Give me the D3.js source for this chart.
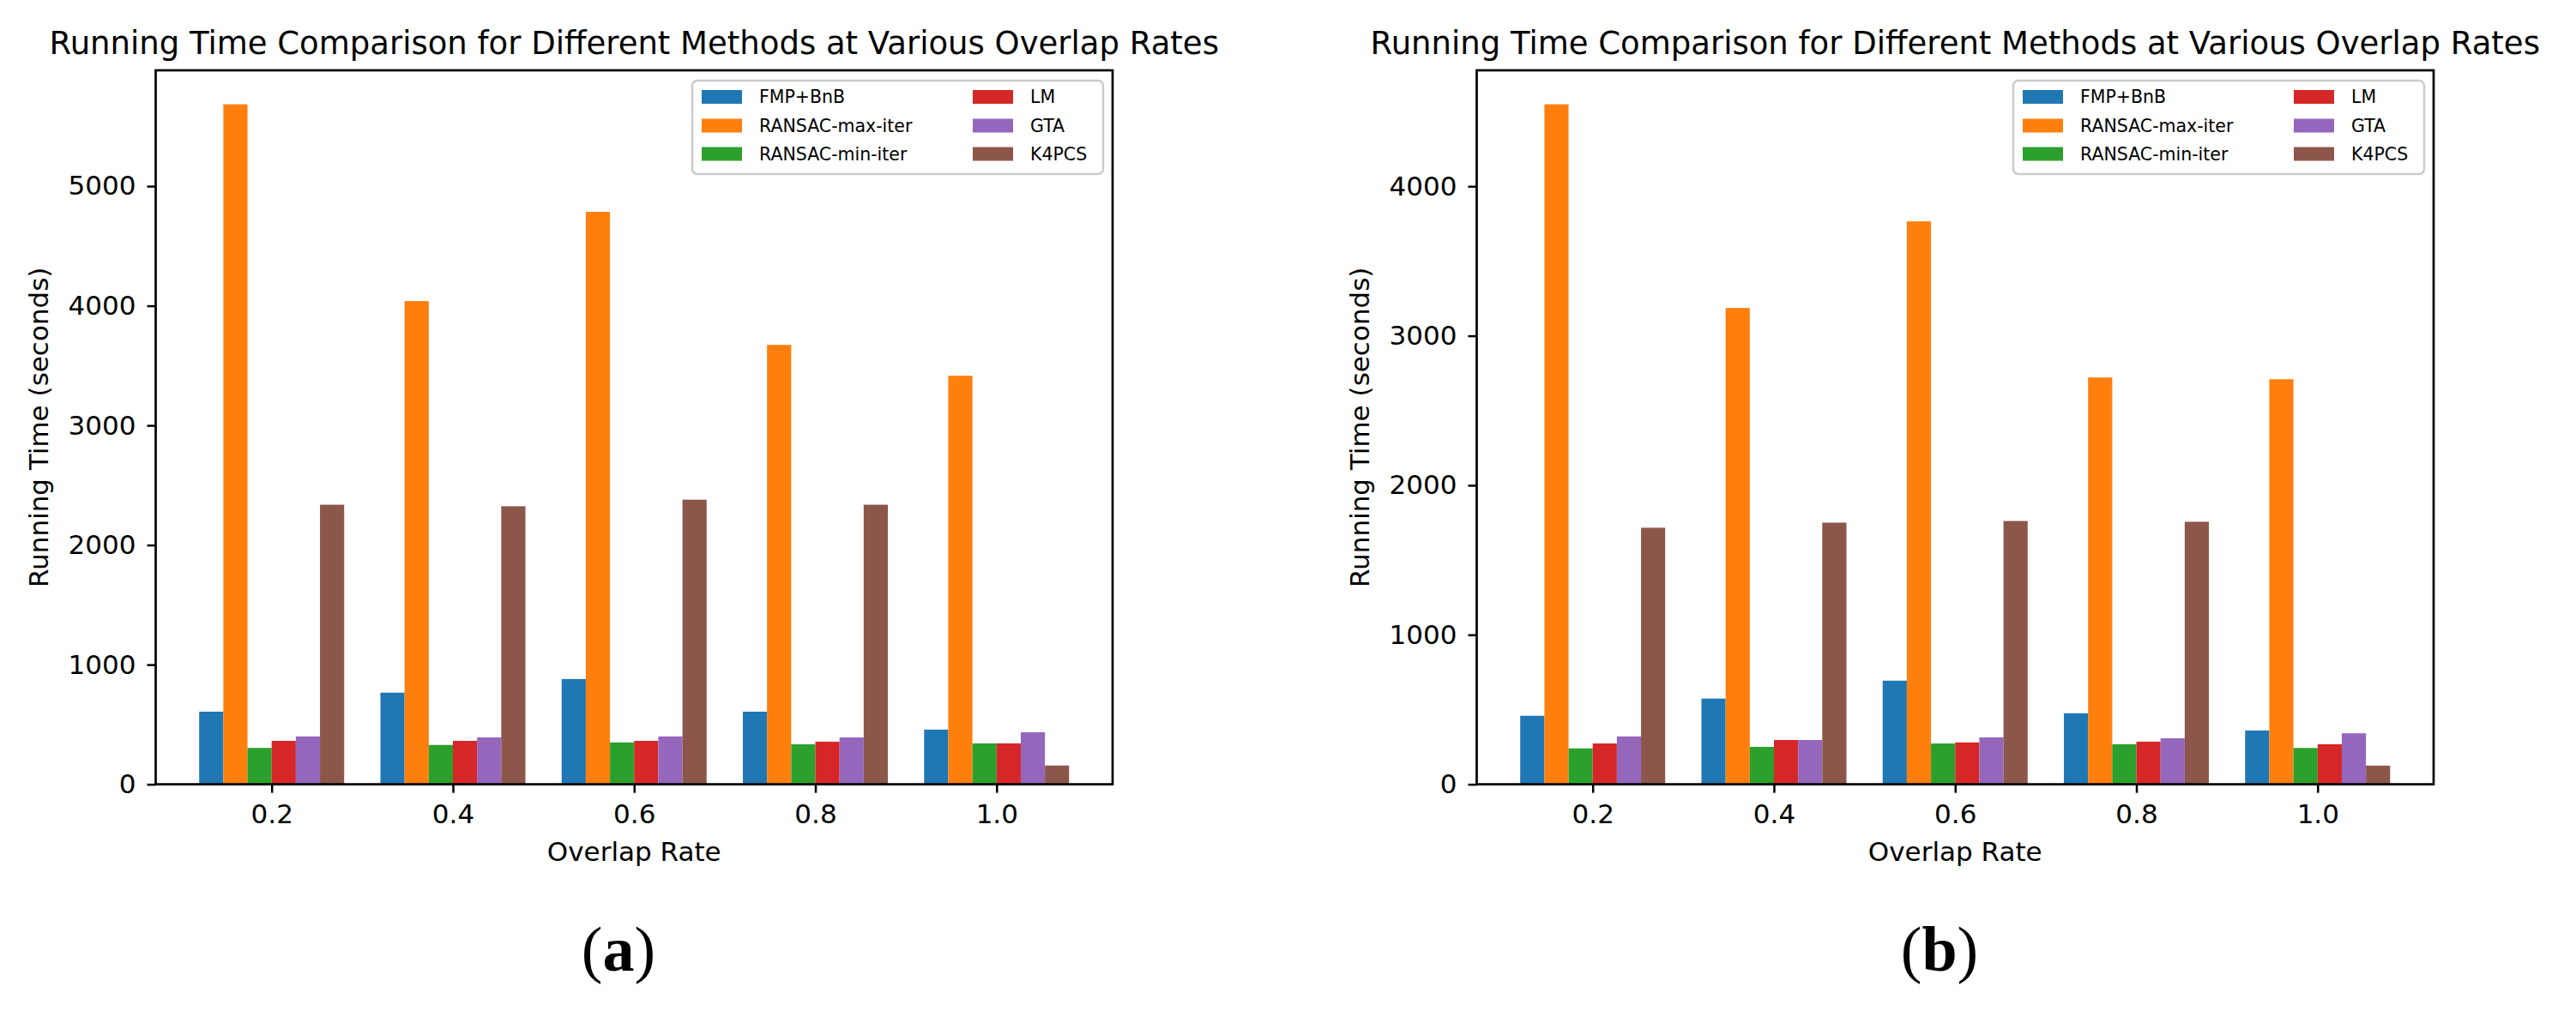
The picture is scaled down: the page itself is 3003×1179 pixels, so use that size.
<!DOCTYPE html>
<html>
<meta charset="utf-8">
<script src="https://d3js.org/d3.v7.min.js"></script>

<body>
    <style>
        body,
        html {
            margin: 0;
            padding: 0;
            background: #fff;
            overflow: hidden;
        }

        text {
            font-family: "DejaVu Sans", sans-serif;
            fill: #000;
        }
    </style>

    <svg id="chart"></svg>

    <script>
        // categories and series
        var overlapRates = ["0.2", "0.4", "0.6", "0.8", "1.0"];
        var methods = ["FMP+BnB", "RANSAC-max-iter", "RANSAC-min-iter", "LM", "GTA", "K4PCS"];
        var methodColors = ["#1f77b4", "#ff7f0e", "#2ca02c", "#d62728", "#9467bd", "#8c564b"];

        // panel (a)
        var fmpA = [607, 766, 880, 607, 457];
        var ransacMaxA = [5684, 4039, 4785, 3673, 3415];
        var ransacMinA = [304, 329, 350, 334, 342];
        var lmA = [363, 363, 363, 356, 342];
        var gtaA = [400, 392, 400, 392, 435];
        var k4pcsA = [2337, 2324, 2379, 2337, 157];
        var yTicksA = [0, 1000, 2000, 3000, 4000, 5000];

        // panel (b)
        var fmpB = [458, 573, 693, 475, 360];
        var ransacMaxB = [4548, 3186, 3765, 2721, 2709];
        var ransacMinB = [240, 250, 273, 268, 243];
        var lmB = [273, 296, 280, 285, 268];
        var gtaB = [320, 296, 314, 308, 341];
        var k4pcsB = [1716, 1750, 1761, 1756, 125];
        var yTicksB = [0, 1000, 2000, 3000, 4000];

        var title = "Running Time Comparison for Different Methods at Various Overlap Rates";

        var width = 3003;
        var height = 1179;

        var svg = d3.select("#chart")
            .attr("width", width)
            .attr("height", height);

        // axes box of the first panel, the second one is shifted right
        var box = { left: 181.5, right: 1297, top: 82, bottom: 914.6 };
        var panelShift = 1540;

        function drawPanel(offsetX, series, yTicks, tag) {
            var g = svg.append("g").attr("transform", `translate(${offsetX},0)`);

            var x = d3.scaleLinear()
                .domain([-0.64, overlapRates.length - 1 + 0.64])
                .range([box.left, box.right]);

            var yMax = d3.max(series, function (s) { return d3.max(s); }) * 1.05;
            var y = d3.scaleLinear()
                .domain([0, yMax])
                .range([box.bottom, box.top]);

            var barW = 0.8 / methods.length;

            series.forEach(function (vals, m) {
                g.selectAll(".bar-" + m)
                    .data(vals)
                    .enter().append("rect")
                    .attr("class", "bar-" + m)
                    .attr("x", function (d, i) { return x(i - 0.4 + m * barW); })
                    .attr("width", x(barW) - x(0))
                    .attr("y", function (d) { return y(d); })
                    .attr("height", function (d) { return y(0) - y(d); })
                    .attr("fill", methodColors[m]);
            });

            // spines
            g.append("rect")
                .attr("x", box.left)
                .attr("y", box.top)
                .attr("width", box.right - box.left)
                .attr("height", box.bottom - box.top)
                .attr("fill", "none")
                .attr("stroke", "#000")
                .attr("stroke-width", 2.7);

            var yAxis = g.append("g")
                .attr("transform", `translate(${box.left},0)`)
                .call(d3.axisLeft(y).tickValues(yTicks).tickFormat(d3.format("d"))
                    .tickSize(10).tickPadding(13));

            var xAxis = g.append("g")
                .attr("transform", `translate(0,${box.bottom})`)
                .call(d3.axisBottom(x).tickValues(d3.range(overlapRates.length))
                    .tickFormat(function (i) { return overlapRates[i]; })
                    .tickSize(10).tickPadding(13));

            [xAxis, yAxis].forEach(function (ax) {
                ax.select(".domain").remove();
                ax.selectAll(".tick line").attr("stroke", "#000").attr("stroke-width", 2.5);
                ax.selectAll(".tick text")
                    .attr("font-family", "DejaVu Sans")
                    .attr("font-size", 31)
                    .attr("fill", "#000");
            });

            g.append("text")
                .attr("x", (box.left + box.right) / 2)
                .attr("y", 63)
                .attr("text-anchor", "middle")
                .attr("font-size", 37)
                .text(title);

            g.append("text")
                .attr("x", (box.left + box.right) / 2)
                .attr("y", 1004)
                .attr("text-anchor", "middle")
                .attr("font-size", 31)
                .text("Overlap Rate");

            g.append("text")
                .attr("transform", `translate(56,${(box.top + box.bottom) / 2}) rotate(-90)`)
                .attr("text-anchor", "middle")
                .attr("font-size", 31)
                .text("Running Time (seconds)");

            // legend, two columns
            var legend = g.append("g");
            legend.append("rect")
                .attr("x", 807)
                .attr("y", 94)
                .attr("width", 479)
                .attr("height", 109)
                .attr("rx", 6)
                .attr("fill", "#fff")
                .attr("fill-opacity", 0.8)
                .attr("stroke", "#cccccc")
                .attr("stroke-width", 2.5);

            var colX = [818, 1134];
            var rowY = [113, 146.5, 179.5];
            methods.forEach(function (name, m) {
                var cx = colX[Math.floor(m / 3)];
                var cy = rowY[m % 3];
                legend.append("rect")
                    .attr("x", cx)
                    .attr("y", cy - 8)
                    .attr("width", 47)
                    .attr("height", 16)
                    .attr("fill", methodColors[m]);
                legend.append("text")
                    .attr("x", cx + 67)
                    .attr("y", cy + 7.4)
                    .attr("font-size", 20.5)
                    .text(name);
            });

            // sub-figure tag
            var tagText = g.append("text")
                .attr("x", 721)
                .attr("y", 1132)
                .attr("text-anchor", "middle")
                .attr("font-size", 74)
                .style("font-family", "'Liberation Serif', serif");
            tagText.append("tspan").text("(");
            tagText.append("tspan").attr("font-weight", "bold").text(tag);
            tagText.append("tspan").text(")");
        }

        drawPanel(0, [fmpA, ransacMaxA, ransacMinA, lmA, gtaA, k4pcsA], yTicksA, "a");
        drawPanel(panelShift, [fmpB, ransacMaxB, ransacMinB, lmB, gtaB, k4pcsB], yTicksB, "b");
    </script>
</body>

</html>
